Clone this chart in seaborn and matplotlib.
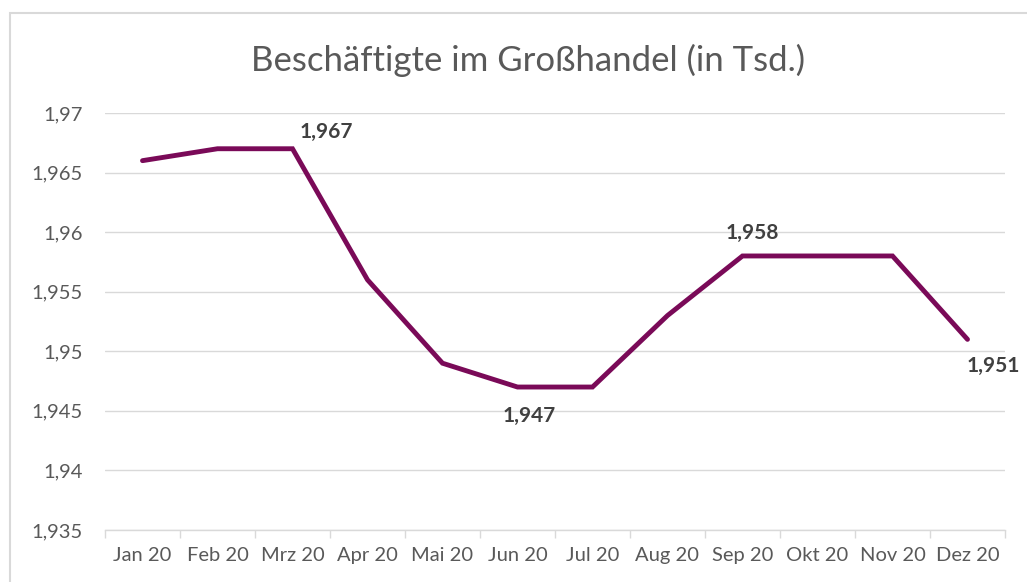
import matplotlib
matplotlib.use("Agg")
import matplotlib.pyplot as plt
import seaborn as sns
import pandas as pd
from matplotlib.ticker import FuncFormatter, FixedLocator
from matplotlib.patches import Rectangle

# Daten
monate = ["Jan 20", "Feb 20", "Mrz 20", "Apr 20", "Mai 20", "Jun 20",
          "Jul 20", "Aug 20", "Sep 20", "Okt 20", "Nov 20", "Dez 20"]
werte = [1.966, 1.967, 1.967, 1.956, 1.949, 1.947,
         1.947, 1.953, 1.958, 1.958, 1.958, 1.951]
beschriftet = ["Mrz 20", "Jun 20", "Sep 20", "Dez 20"]
y_ticks = [1.935, 1.94, 1.945, 1.95, 1.955, 1.96, 1.965, 1.97]

df = pd.DataFrame({"Monat": monate, "Wert": werte})
df["pos"] = range(len(df))

sns.set_style("white")
plt.rcParams["font.family"] = ["Lato", "DejaVu Sans"]

fig = plt.figure(figsize=(10.27, 5.82), dpi=100)
ax = fig.add_axes([105 / 1027, 1 - 530 / 582, 900 / 1027, 417 / 582])

sns.lineplot(data=df, x="pos", y="Wert", ax=ax, color="#7A0A58",
             linewidth=3.5, solid_joinstyle="miter", solid_capstyle="round")

ax.set_xlim(-0.5, len(monate) - 0.5)
ax.set_ylim(1.935, 1.97)
ax.set_yticks(y_ticks)
ax.yaxis.set_major_formatter(FuncFormatter(lambda v, p: f"{v:.3f}".rstrip("0").replace(".", ",")))
ax.set_xticks(range(len(monate)))
ax.set_xticklabels(monate)
ax.xaxis.set_minor_locator(FixedLocator([i - 0.5 for i in range(len(monate) + 1)]))
ax.tick_params(axis="x", which="major", bottom=False, length=0, pad=12, labelsize=14.5, labelcolor="#595959")
ax.tick_params(axis="x", which="minor", bottom=True, length=6, width=1, color="#D9D9D9", direction="out")
ax.tick_params(axis="y", length=0, pad=16, labelsize=14.5, labelcolor="#595959")
ax.grid(axis="y", color="#D9D9D9", linewidth=1)
ax.set_xlabel("")
ax.set_ylabel("")
for s in ["top", "right", "left"]:
    ax.spines[s].set_visible(False)
ax.spines["bottom"].set_color("#D9D9D9")
ax.spines["bottom"].set_linewidth(1)

# Datenbeschriftungen
offsets = {"Mrz 20": (34, 17), "Jun 20": (12, -29), "Sep 20": (10, 23), "Dez 20": (26, -27)}
for m in beschriftet:
    i = monate.index(m)
    v = werte[i]
    dx, dy = offsets[m]
    ax.annotate(f"{v:.3f}".replace(".", ","), (i, v), xytext=(dx, dy),
                textcoords="offset pixels", ha="center", va="center",
                fontsize=15, fontweight="bold", color="#404040")

fig.text(528 / 1027, 1 - 60 / 582, "Beschäftigte im Großhandel (in Tsd.)",
         ha="center", va="center", fontsize=25, color="#595959")

fig.patches.append(Rectangle((10 / 1027, -0.1), 1.2, 1 - 13 / 582 + 0.1,
                             transform=fig.transFigure, fill=False,
                             edgecolor="#D9D9D9", linewidth=1.5))

fig.savefig("out.png", dpi=100)
